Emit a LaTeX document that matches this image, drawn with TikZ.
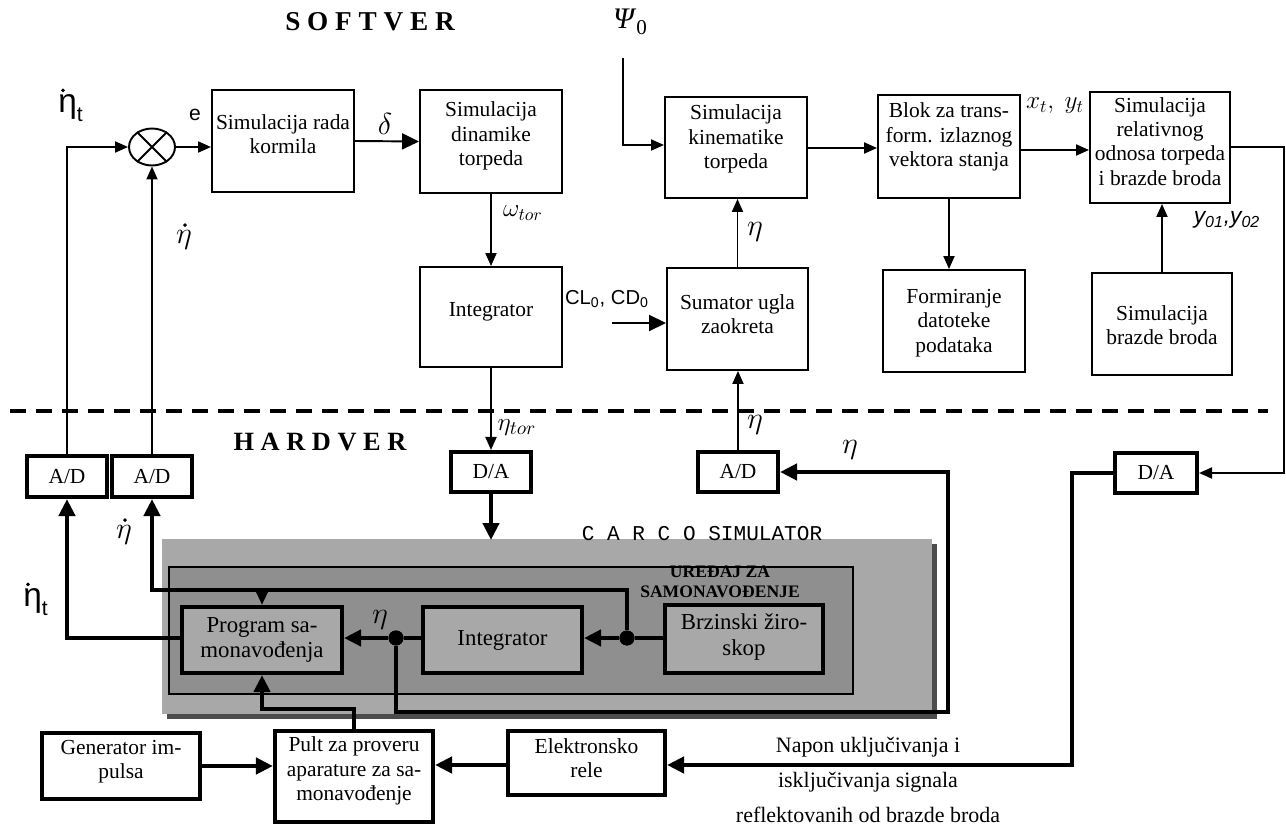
\documentclass[tikz,border=0pt]{standalone}
\usepackage{fontspec}
\setmainfont{Liberation Serif}
\newfontfamily\sansf{Liberation Sans}
\newfontfamily\monof{Liberation Mono}
\usetikzlibrary{arrows.meta,shapes.geometric,calc}
\tikzset{
 swbox/.style={draw, line width=1.1pt, inner sep=0pt},
 hwbox/.style={draw, line width=2.3pt, inner sep=0pt},
 sz/.style 2 args={minimum width=#1*0.02cm, minimum height=#2*0.02cm},
 txt/.style={align=center, font=\fontsize{12.2}{13.8}\selectfont, inner sep=0pt},
 hwtxt/.style={align=center, font=\fontsize{13}{14.4}\selectfont, inner sep=0pt},
 thinl/.style={line width=1.1pt},
 hwl/.style={line width=2.5pt},
 arr/.style={-{Triangle[length=0.26cm,width=0.22cm]}},
 barr/.style={-{Triangle[length=0.34cm,width=0.32cm]}},
 dotn/.style={circle, fill, inner sep=0pt, minimum size=0.3cm},
 lab/.style={inner sep=0pt},
 etat/.style={inner sep=0pt, font=\sansf\fontsize{19}{19}\selectfont},
}
\begin{document}
\begin{tikzpicture}[x=0.02cm,y=-0.02cm]
\useasboundingbox (0,0) rectangle (1286,828);
% gray CARCO area
\fill[black!70] (167,544) rectangle (937,719);
\fill[black!34] (162,539) rectangle (932,714);
\draw[line width=1.2pt, fill=black!44] (169,567) rectangle (853,694);
% dashed separator
\draw[line width=2.4pt, dash pattern=on 0.32cm off 0.2cm] (10,411) -- (1268,411);
% software boxes
\node[swbox, sz={142}{102}] (korm) at (283,141) {};
\node[txt] (kormT) at (283,134) {Simulacija rada\\kormila};
\node[swbox, sz={142}{103}] (din) at (491,141.5) {};
\node[txt] (dinT) at (491,136) {Simulacija\\dinamike\\torpeda};
\node[swbox, sz={142}{100}] (integ) at (491,317) {};
\node[txt] (integT) at (491,312) {Integrator};
\node[swbox, sz={142}{101}] (kin) at (736,147.5) {};
\node[txt] (kinT) at (736,139) {Simulacija\\kinematike\\torpeda};
\node[swbox, sz={141}{102}] (sum) at (737.5,319) {};
\node[txt] (sumT) at (737.5,314.5) {Sumator ugla\\zaokreta};
\node[swbox, sz={142}{103}] (blok) at (949,146.5) {};
\node[txt] (blokT) at (949,137) {Blok za trans-\\form. izlaznog\\vektora stanja};
\node[swbox, sz={142}{102}] (form) at (954,321) {};
\node[txt] (formT) at (954,323) {Formiranje\\datoteke\\podataka};
\node[swbox, sz={140}{111}] (rel) at (1160,147.5) {};
\node[txt] (relT) at (1160,141.5) {Simulacija\\relativnog\\odnosa torpeda\\i brazde broda};
\node[swbox, sz={140}{102}] (braz) at (1162,324) {};
\node[txt] (brazT) at (1162,325) {Simulacija\\brazde broda};
% summing junction
\node[draw, ellipse, line width=1.1pt, minimum width=0.92cm, minimum height=0.74cm, inner sep=0pt] (sumj) at (152,147) {};
\draw[thinl] (sumj.45) -- (sumj.225) (sumj.135) -- (sumj.315);
% converters
\node[hwbox, sz={80}{41}, font=\fontsize{12.2}{13}\selectfont] (ad1) at (67,476.5) {A/D};
\node[hwbox, sz={80}{41}, font=\fontsize{12.2}{13}\selectfont] (ad2) at (152,476.5) {A/D};
\node[hwbox, sz={80}{40}, font=\fontsize{12.2}{13}\selectfont] (da1) at (491,472) {D/A};
\node[hwbox, sz={80}{40}, font=\fontsize{12.2}{13}\selectfont] (ad3) at (738,472) {A/D};
\node[hwbox, sz={82}{40}, font=\fontsize{12.2}{13}\selectfont] (da2) at (1156,473) {D/A};
% hardware boxes
\node[hwbox, fill=black!34, sz={160}{66}] (prog) at (262,640) {};
\node[hwtxt] (progT) at (262,640) {Program sa-\\monavođenja};
\node[hwbox, fill=black!34, sz={159}{66}] (hint) at (502.5,640) {};
\node[hwtxt] (hintT) at (502.5,640) {Integrator};
\node[hwbox, fill=black!34, sz={158}{68}] (brz) at (744,639) {};
\node[hwtxt] (brzT) at (744,637) {Brzinski žiro-\\skop};
\node[hwbox, sz={158}{66}] (gen) at (121,766) {};
\node[txt] (genT) at (121,762) {Generator im-\\pulsa};
\node[hwbox, sz={158}{91}] (pult) at (354,776.5) {};
\node[txt] (pultT) at (354,771) {Pult za proveru\\aparature za sa-\\monavođenje};
\node[hwbox, sz={157}{64}] (elek) at (586.5,763) {};
\node[txt] (elekT) at (586.5,758.5) {Elektronsko\\rele};
% software connectors
\coordinate (clin) at (612,323);
\coordinate (psin) at (623,58);
\draw[thinl, arr] (ad1.north) |- (sumj.west);
\draw[thinl, arr] (ad2.north) -- (sumj.south);
\draw[thinl, arr] (sumj.east) -- (sumj.east -| korm.west);
\draw[thinl, barr] (korm.east) -- (din.west);
\draw[thinl, arr] (din.south) -- (integ.north);
\draw[thinl, arr] (integ.south) -- (da1.north);
\draw[thinl, barr] (clin) -- (clin -| sum.west);
\draw[thinl, arr] (sum.north) -- (sum.north |- kin.south);
\draw[thinl, arr] (psin) |- (kin.west |- 0,145);
\draw[thinl, arr] (kin.east |- 0,148) -- (blok.west |- 0,148);
\draw[thinl, arr] (blok.east |- 0,150) -- (rel.west |- 0,150);
\draw[thinl, arr] (blok.south) -- (blok.south |- form.north);
\draw[thinl, arr] (braz.north) -- (braz.north |- rel.south);
\draw[thinl, arr] (rel.east |- 0,147) -- (1284,147) |- (da2.east);
\draw[thinl, arr] (ad3.north) -- (ad3.north |- sum.south);
% hardware connectors
\coordinate (carcoin) at (491,540);
\node[dotn] (d1) at (396,638) {};
\node[dotn] (d2) at (627,638) {};
\draw[hwl, barr] (da1.south) -- (carcoin);
\draw[hwl, barr] (prog.west |- 0,638) -| (ad1.south);
\draw[hwl] (brz.west |- d2) -- (d2);
\draw[hwl, barr] (d2) -- (d2 -| hint.east);
\draw[hwl] (hint.west |- d1) -- (d1);
\draw[hwl, barr] (d1) -- (d1 -| prog.east);
\draw[hwl, barr] (d2) -- (627,590) -| (ad2.south);
\draw[hwl, arr] (prog.north |- 0,590) -- (prog.north);
\draw[hwl, barr] (d1) |- (948,712) |- (ad3.east);
\draw[hwl, barr] (pult.north) |- (prog.south |- 0,709) -- (prog.south);
\draw[hwl, barr] (gen.east |- 0,766) -- (pult.west |- 0,766);
\draw[hwl, barr] (elek.west |- 0,765) -- (pult.east |- 0,765);
\draw[hwl, barr] (da2.west) -| (1072,765) -- (elek.east |- 0,765);
\node[dotn] (d1b) at (d1) {};
\node[dotn] (d2b) at (d2) {};
% labels with dots
\node[etat, anchor=west] (lbetat) at (58,108) {η\raisebox{-0.25em}{\fontsize{12}{12}\selectfont t}};
\fill ($(lbetat.north west)+(5,-4)$) circle (1.1pt);
\node[etat, anchor=west] (lbetat2) at (23,602) {η\raisebox{-0.25em}{\fontsize{12}{12}\selectfont t}};
\fill ($(lbetat2.north west)+(5,-4)$) circle (1.1pt);
\node[lab, font=\fontsize{18}{18}\selectfont] (lbed) at (184,240) {$\eta$};
\fill ($(lbed.north)+(1,-5)$) circle (1.1pt);
\node[lab, font=\fontsize{18}{18}\selectfont] (lbed2) at (124,535) {$\eta$};
\fill ($(lbed2.north)+(1,-5)$) circle (1.1pt);
% other labels
\node[lab, font=\sansf\fontsize{12}{12}\selectfont] (lbe) at (195,115) {e};
\node[lab, font=\fontsize{17}{17}\selectfont] (lbd) at (385,124) {$\delta$};
\node[lab, font=\fontsize{14}{14}\selectfont] (lbw) at (523,213) {$\omega_{tor}$};
\node[lab, font=\sansf\fontsize{11.5}{11.5}\selectfont] (lbcl) at (607,299) {CL\textsubscript{0}, CD\textsubscript{0}};
\node[lab, font=\fontsize{16}{16}\selectfont] (lbeta1) at (755,232) {$\eta$};
\node[lab, font=\fontsize{17}{17}\selectfont] (lbpsi) at (630,22) {\textit{Ψ}\raisebox{-0.2em}{\fontsize{12}{12}\selectfont 0}};
\node[lab, font=\fontsize{14}{14}\selectfont] (lbxy) at (1055,106) {$x_t,\ y_t$};
\node[lab, font=\sansf\itshape\fontsize{13}{13}\selectfont] (lby) at (1227,220) {y\textsubscript{01},y\textsubscript{02}};
\node[lab, font=\bfseries\fontsize{15.5}{15.5}\selectfont] (lbsoft) at (370,22) {S O F T V E R};
\node[lab, font=\bfseries\fontsize{15}{15}\selectfont] (lbhard) at (320,442) {H A R D V E R};
\node[lab, font=\fontsize{15}{15}\selectfont] (lbetor) at (517,428) {$\eta_{tor}$};
\node[lab, font=\fontsize{16}{16}\selectfont] (lbeta2) at (755,425) {$\eta$};
\node[lab, font=\fontsize{16}{16}\selectfont] (lbeta3) at (850,450) {$\eta$};
\node[lab, font=\fontsize{16}{16}\selectfont] (lbeta4) at (380,620) {$\eta$};
\node[lab, font=\monof\fontsize{12}{12}\selectfont] (carco) at (702,534) {C A R C O SIMULATOR};
\node[lab, align=center, font=\bfseries\fontsize{10}{11.3}\selectfont] (ured) at (720,582) {UREĐAJ ZA\\SAMONAVOĐENJE};
\node[lab, align=center, font=\fontsize{12.5}{20}\selectfont] (napon) at (868,780) {Napon uključivanja i\\isključivanja signala\\reflektovanih od brazde broda};
\end{tikzpicture}
\end{document}
